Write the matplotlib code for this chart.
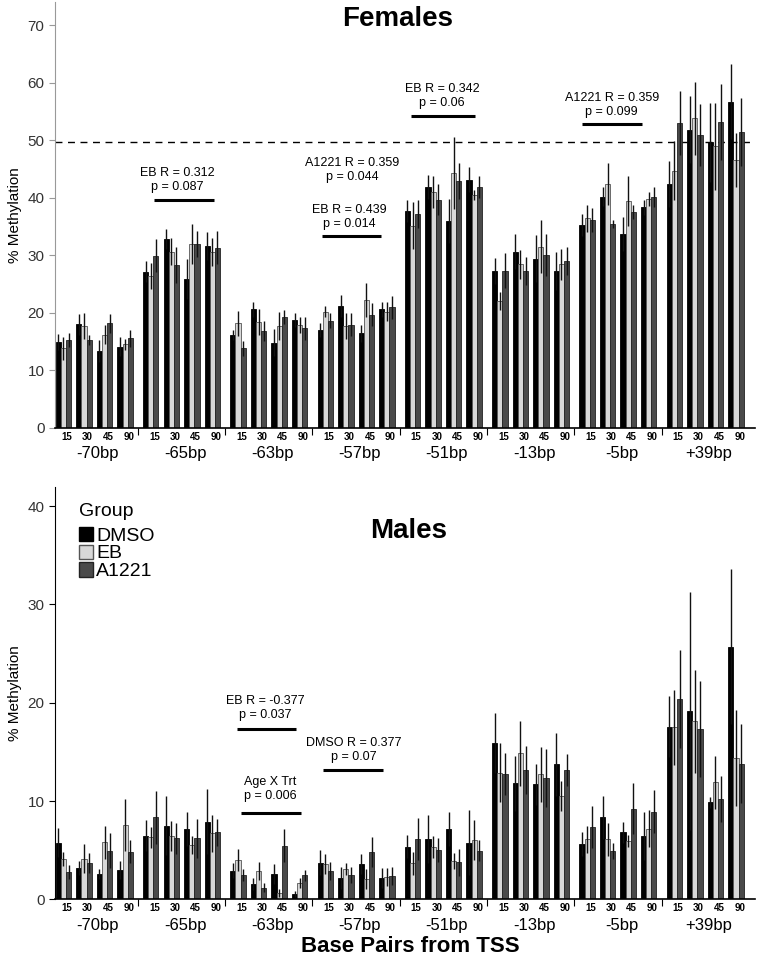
import numpy as np
import matplotlib
matplotlib.use("Agg")
import matplotlib.pyplot as plt
from matplotlib import font_manager
from matplotlib.patches import Patch

sites = ['-70bp', '-65bp', '-63bp', '-57bp', '-51bp', '-13bp', '-5bp', '+39bp']
ages = ['15', '30', '45', '90']
groups = ['DMSO', 'EB', 'A1221']

# females, 8 sites x 4 ages (site-major)
fem_dmso = [14.85, 18.0, 13.4, 14.1, 27.1, 32.8, 25.9, 31.6, 16.1, 20.6, 14.8, 18.7,
            17.0, 21.2, 16.4, 20.6, 37.7, 41.8, 35.9, 43.1, 27.25, 30.6, 29.4, 27.25,
            35.25, 40.2, 33.7, 38.3, 42.4, 51.8, 49.6, 56.7]
fem_eb = [13.8, 17.7, 16.2, 14.5, 26.4, 30.6, 31.95, 30.5, 18.15, 18.4, 17.7, 17.9,
          20.2, 17.7, 22.2, 20.2, 35.1, 41.0, 44.3, 40.5, 22.0, 28.4, 31.5, 28.4,
          36.4, 42.4, 39.4, 39.7, 44.7, 53.8, 48.9, 46.6]
fem_a1221 = [15.25, 15.25, 18.15, 15.55, 29.9, 28.3, 31.95, 31.3, 13.8, 16.8, 19.3, 17.3,
             18.6, 17.9, 19.6, 20.9, 37.2, 39.6, 42.9, 41.8, 27.3, 27.25, 30.0, 29.0,
             36.1, 35.4, 37.5, 40.1, 53.0, 50.85, 53.2, 51.4]
fem_dmso_err = [1.4, 1.8, 1.9, 1.7, 1.8, 1.8, 3.5, 2.4, 0.9, 1.3, 2.3, 1.2,
                1.2, 1.9, 1.5, 1.3, 1.9, 2.1, 3.8, 2.2, 2.2, 3.0, 4.1, 3.25,
                1.9, 1.6, 2.9, 1.3, 4.0, 5.8, 6.8, 6.5]
fem_eb_err = [2.0, 2.3, 1.7, 1.0, 2.2, 2.3, 3.4, 2.4, 2.2, 2.3, 2.5, 1.4,
              1.0, 2.2, 3.0, 1.7, 4.1, 2.8, 6.3, 0.9, 1.6, 2.5, 4.6, 2.7,
              2.3, 3.6, 4.4, 1.2, 5.1, 6.4, 7.5, 4.7]
fem_a1221_err = [1.2, 0.9, 1.7, 1.45, 2.9, 3.2, 2.3, 2.9, 1.3, 1.7, 1.2, 2.0,
                 1.3, 2.0, 2.0, 2.0, 2.4, 2.7, 3.1, 1.9, 3.0, 2.5, 3.6, 2.5,
                 2.1, 0.75, 1.2, 1.7, 5.5, 5.4, 6.6, 5.9]

# males
male_dmso = [5.76, 3.15, 2.54, 2.98, 6.47, 7.46, 7.15, 7.9, 2.92, 1.53, 2.54, 0.58,
             3.73, 2.17, 3.6, 2.17, 5.36, 6.14, 7.15, 5.76, 15.9, 11.8, 11.7, 13.76,
             5.6, 8.34, 6.8, 6.44, 17.56, 19.15, 9.86, 25.7]
male_eb = [4.13, 4.13, 5.8, 7.56, 6.3, 6.44, 5.52, 6.7, 4.0, 2.9, 0.6, 1.63,
           3.6, 3.12, 2.07, 2.24, 3.66, 5.3, 3.9, 6.03, 12.9, 14.85, 12.7, 10.5,
           6.1, 6.1, 5.93, 7.2, 17.5, 18.1, 11.9, 14.4]
male_a1221 = [2.8, 3.66, 4.95, 4.85, 8.34, 6.2, 6.2, 6.8, 2.47, 1.19, 5.46, 2.44,
              2.88, 2.47, 4.8, 2.4, 6.14, 5.0, 3.76, 4.95, 12.75, 13.15, 12.3, 13.15,
              7.36, 4.9, 9.2, 8.9, 20.4, 17.36, 10.2, 13.8]
male_dmso_err = [1.45, 0.7, 0.5, 0.9, 1.6, 3.0, 1.7, 3.3, 0.8, 0.6, 1.0, 0.3,
                 1.3, 1.1, 1.0, 1.0, 1.15, 2.4, 1.75, 3.3, 3.1, 2.8, 2.1, 3.2,
                 1.2, 2.2, 1.1, 2.4, 3.1, 12.1, 0.55, 7.9]
male_eb_err = [0.7, 1.45, 1.7, 2.65, 1.1, 1.5, 0.9, 1.9, 1.1, 0.9, 0.4, 0.5,
               1.0, 0.6, 1.0, 0.9, 1.15, 1.1, 0.8, 2.0, 3.0, 3.3, 2.8, 1.5,
               1.4, 1.7, 0.6, 1.9, 3.8, 5.2, 2.7, 4.9]
male_a1221_err = [0.7, 1.0, 1.75, 1.2, 2.7, 1.6, 2.0, 1.35, 0.65, 0.45, 1.65, 0.55,
                  0.95, 0.8, 1.5, 0.9, 2.1, 1.2, 1.35, 1.1, 2.1, 2.45, 2.95, 1.65,
                  2.1, 0.8, 2.6, 2.2, 5.0, 4.9, 2.3, 4.0]

# (text line 1, text line 2, text x, text y, bar x0, bar x1, bar y)
fem_notes = [('EB R = 0.312', 'p = 0.087', 23.7, 43.05, 19.1, 30.8, 39.6),
             ('A1221 R = 0.359', 'p = 0.044', 57.7, 44.8, None, None, None),
             ('EB R = 0.439', 'p = 0.014', 57.1, 36.6, 51.9, 63.4, 33.3),
             ('EB R = 0.342', 'p = 0.06', 75.2, 57.7, 69.2, 81.6, 54.2),
             ('A1221 R = 0.359', 'p = 0.099', 108.3, 56.1, 102.5, 114.2, 52.8)]
male_notes = [('EB R = -0.377', 'p = 0.037', 40.8, 19.5, 35.3, 46.8, 17.35),
              ('DMSO R = 0.377', 'p = 0.07', 58.1, 15.2, 52.1, 63.7, 13.2),
              ('Age X Trt', 'p = 0.006', 41.7, 11.2, 36.1, 47.8, 8.8)]

names = {f.name for f in font_manager.fontManager.ttflist}
plt.rcParams['font.family'] = 'Liberation Sans'
narrow = 'Liberation Sans Narrow' if 'Liberation Sans Narrow' in names else 'Liberation Sans'

colors = ['#000000', '#d8d8d8', '#4a4a4a']
edges = ['#000000', '#555555', '#222222']
GROUP_W = 17
CLUSTER_W = 4


def draw_panel(ax, vals, errs, ymax, yticks, notes, spine_col):
    for g in range(3):
        x = []
        for s in range(len(sites)):
            for a in range(len(ages)):
                x.append(s * GROUP_W + a * CLUSTER_W + g)
        x = np.array(x)
        ax.bar(x, vals[g], width=1.0, align='edge', color=colors[g],
               edgecolor=edges[g], linewidth=0.6, zorder=2)
        ax.errorbar(x + 0.5, vals[g], yerr=errs[g], fmt='none',
                    ecolor='#111111', elinewidth=1.0, capsize=0, zorder=3)

    ax.set_xlim(-0.15, 136.2)
    ax.set_ylim(0, ymax)
    ax.set_yticks(yticks)
    ax.tick_params(axis='y', labelsize=11, labelcolor='#333333', length=4,
                   color=spine_col, width=0.8)
    ax.spines['top'].set_visible(False)
    ax.spines['right'].set_visible(False)
    ax.spines['left'].set_color(spine_col)
    ax.spines['bottom'].set_linewidth(1.2)
    ax.set_ylabel('% Methylation', fontsize=11, labelpad=4)

    # age tick labels
    age_x = [s * GROUP_W + a * CLUSTER_W + 1.5 + 0.7
             for s in range(len(sites)) for a in range(len(ages))]
    ax.set_xticks(age_x)
    ax.set_xticklabels(ages * len(sites), fontsize=7, fontweight='bold')
    ax.tick_params(axis='x', which='major', length=0, pad=3)
    ax.set_xticks([s * GROUP_W - 1 for s in range(1, len(sites))], minor=True)
    ax.tick_params(axis='x', which='minor', length=5, width=0.8, direction='out')

    for s, name in enumerate(sites):
        ax.annotate(name, xy=(s * GROUP_W + 7.5 + 0.7, 0), xycoords=('data', 'axes fraction'),
                    xytext=(0, -13.5), textcoords='offset points', ha='center', va='top',
                    fontsize=12, family=narrow)

    for t1, t2, tx, ty, x0, x1, ly in notes:
        ax.text(tx, ty, t1 + '\n' + t2, ha='center', va='center', fontsize=9,
                linespacing=1.25)
        if x0 is not None:
            ax.plot([x0, x1], [ly, ly], color='black', lw=2.2, solid_capstyle='butt')


fig = plt.figure(figsize=(7.62, 9.76), dpi=100)
ax1 = fig.add_axes([0.0722, 0.5618, 0.9186, 0.4360])
ax2 = fig.add_axes([0.0722, 0.0786, 0.9186, 0.4229])

draw_panel(ax1, [fem_dmso, fem_eb, fem_a1221], [fem_dmso_err, fem_eb_err, fem_a1221_err],
           74, range(0, 71, 10), fem_notes, '#999999')
ax1.axhline(49.7, color='black', lw=1.0, linestyle=(0, (5, 4)), zorder=1)

draw_panel(ax2, [male_dmso, male_eb, male_a1221], [male_dmso_err, male_eb_err, male_a1221_err],
           42, range(0, 41, 10), male_notes, '#000000')

fig.text(398 / 762, 1 - 19 / 976, 'Females', ha='center', va='center', fontsize=20, fontweight='bold')
fig.text(409 / 762, 1 - 531 / 976, 'Males', ha='center', va='center', fontsize=20, fontweight='bold')
fig.text(410 / 762, 1 - 947 / 976, 'Base Pairs from TSS', ha='center', va='center',
         fontsize=16, fontweight='bold', family=narrow)

handles = [Patch(facecolor=colors[i], edgecolor=edges[i], linewidth=1.0) for i in range(3)]
leg = ax2.legend(handles, groups, title='Group', loc='upper left',
                 bbox_to_anchor=(67 / 762, 1 - 491 / 976), bbox_transform=fig.transFigure,
                 frameon=False, fontsize=14, title_fontsize=14, handlelength=0.75,
                 handleheight=0.75, handletextpad=0.15, labelspacing=0.0,
                 borderpad=0.1, alignment='left')
leg._legend_box.sep = 5

fig.savefig('out.png', dpi=100)
